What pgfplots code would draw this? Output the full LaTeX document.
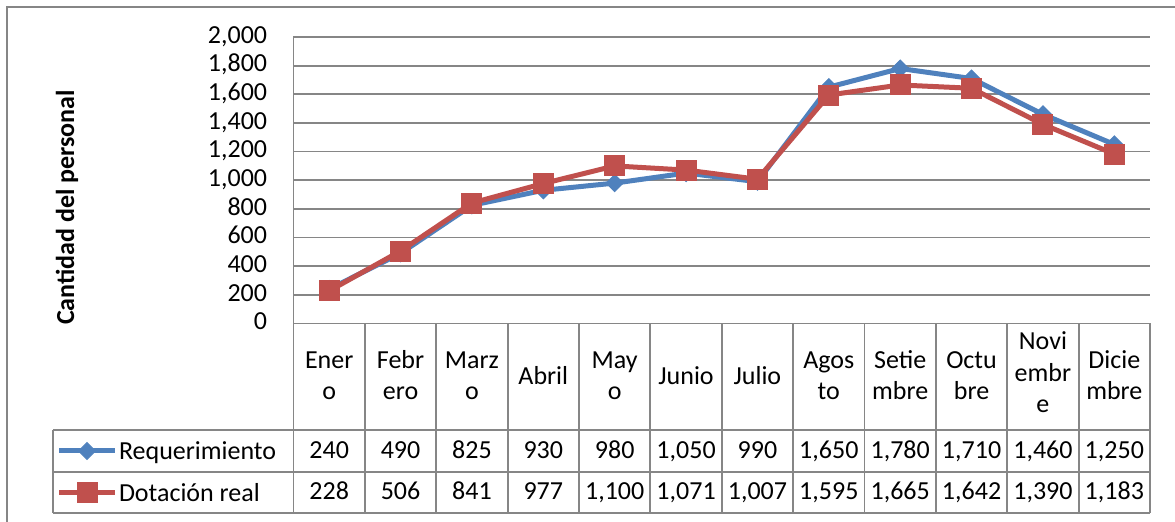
\documentclass[border=0pt]{standalone}
\usepackage{pgfplots}
\pgfplotsset{compat=1.18}
\usepackage{fontspec}
\setmainfont{Carlito}
\definecolor{gridgray}{RGB}{134,134,134}
\definecolor{serblue}{RGB}{79,129,189}
\definecolor{serred}{RGB}{192,80,77}
\begin{document}
\fontsize{13}{15.5}\selectfont
\begin{tikzpicture}
\useasboundingbox (0,0) rectangle (587.5pt,-261pt);
\begin{axis}[
  at={(146.75pt,-161.75pt)}, anchor=south west,
  scale only axis, width=428.25pt, height=143.25pt,
  xmin=0, xmax=12, ymin=0, ymax=2000,
  ytick={0,200,...,2000}, xtick=\empty,
  scaled y ticks=false,
  ymajorgrids, grid style={gridgray, line width=0.9pt},
  axis line style={draw=none},
  major tick length=0pt,
  clip=false,
  yticklabel style={font=\fontsize{13}{15.5}\selectfont, anchor=mid east, inner sep=0pt, xshift=-13pt,
     /pgf/number format/1000 sep={,}, /pgf/number format/assume math mode=true},
  legend style={at={(-0.27671,-0.3717)}, anchor=north west, draw=none, fill=none,
     inner sep=0pt, outer sep=0pt, row sep=0pt, column sep=0.75pt,
     font=\fontsize{13}{15.5}\selectfont,
     nodes={inner sep=0pt, text height=14.7pt, text depth=6.3pt}},
  legend cell align=left,
  legend image code/.code={\draw[mark repeat=2,mark phase=2] plot coordinates {(0pt,0pt) (14pt,0pt) (28pt,0pt)};},
]
\addplot[serblue, line width=2.5pt, mark=square*, mark size=3pt,
  mark options={rotate=45, line width=0.5pt, fill=serblue, draw=serblue}]
  coordinates {(0.5,240) (1.5,490) (2.5,825) (3.5,930) (4.5,980) (5.5,1050)
               (6.5,990) (7.5,1650) (8.5,1780) (9.5,1710) (10.5,1460) (11.5,1250)};
\addlegendentry{Requerimiento}
\addplot[serred, line width=2.5pt, mark=square*, mark size=5pt,
  mark options={line width=0.5pt, fill=serred, draw=serred}]
  coordinates {(0.5,228) (1.5,506) (2.5,841) (3.5,977) (4.5,1100) (5.5,1071)
               (6.5,1007) (7.5,1595) (8.5,1665) (9.5,1642) (10.5,1390) (11.5,1183)};
\addlegendentry{Dotación real}
\end{axis}
\begin{scope}[x=0.5pt, y=-0.5pt]
  \begin{scope}[gridgray, line width=0.9pt]
  \draw (7,522) -- (7,7) -- (1175,7);
  \draw (293.5,37) -- (293.5,513);
  \draw (293.5,323.5) -- (1150,323.5);
  \draw (53,430) -- (1150,430);
  \draw (53,471.7) -- (1150,471.7);
  \draw (53,513) -- (1150,513);
  \draw (53,430) -- (53,513);
  \foreach \k in {1,...,12} {
    \draw ({293.5+71.375*\k},323.5) -- ({293.5+71.375*\k},513);
  }
  \end{scope}
  % header row
  \foreach \i/\a/\b in {0/Ener/o,1/Febr/ero,2/Marz/o,4/May/o,7/Agos/to,8/Setie/mbre,9/Octu/bre,11/Dicie/mbre} {
    \node[anchor=base, inner sep=0pt] at ({293.5+71.375*(\i+0.5)},369) {\a};
    \node[anchor=base, inner sep=0pt] at ({293.5+71.375*(\i+0.5)},400) {\b};
  }
  \foreach \i/\a in {3/Abril,5/Junio,6/Julio} {
    \node[anchor=base, inner sep=0pt] at ({293.5+71.375*(\i+0.5)},385) {\a};
  }
  \node[anchor=base, inner sep=0pt] at ({293.5+71.375*10.5},350) {Novi};
  \node[anchor=base, inner sep=0pt] at ({293.5+71.375*10.5},381.5) {embr};
  \node[anchor=base, inner sep=0pt] at ({293.5+71.375*10.5},413) {e};
  % data rows
  \foreach \v [count=\i from 0] in {240,490,825,930,980,1050,990,1650,1780,1710,1460,1250} {
    \node[anchor=base, inner sep=0pt] at ({293.5+71.375*(\i+0.5)},458.5)
      {\pgfmathprintnumber[1000 sep={,}, assume math mode=true]{\v}};
  }
  \foreach \v [count=\i from 0] in {228,506,841,977,1100,1071,1007,1595,1665,1642,1390,1183} {
    \node[anchor=base, inner sep=0pt] at ({293.5+71.375*(\i+0.5)},499.5)
      {\pgfmathprintnumber[1000 sep={,}, assume math mode=true]{\v}};
  }
  % axis title
  \node[rotate=90, inner sep=0pt, font=\bfseries\fontsize{13}{15.5}\selectfont] at (67,207.5) {Cantidad del personal};
\end{scope}
\end{tikzpicture}
\end{document}
